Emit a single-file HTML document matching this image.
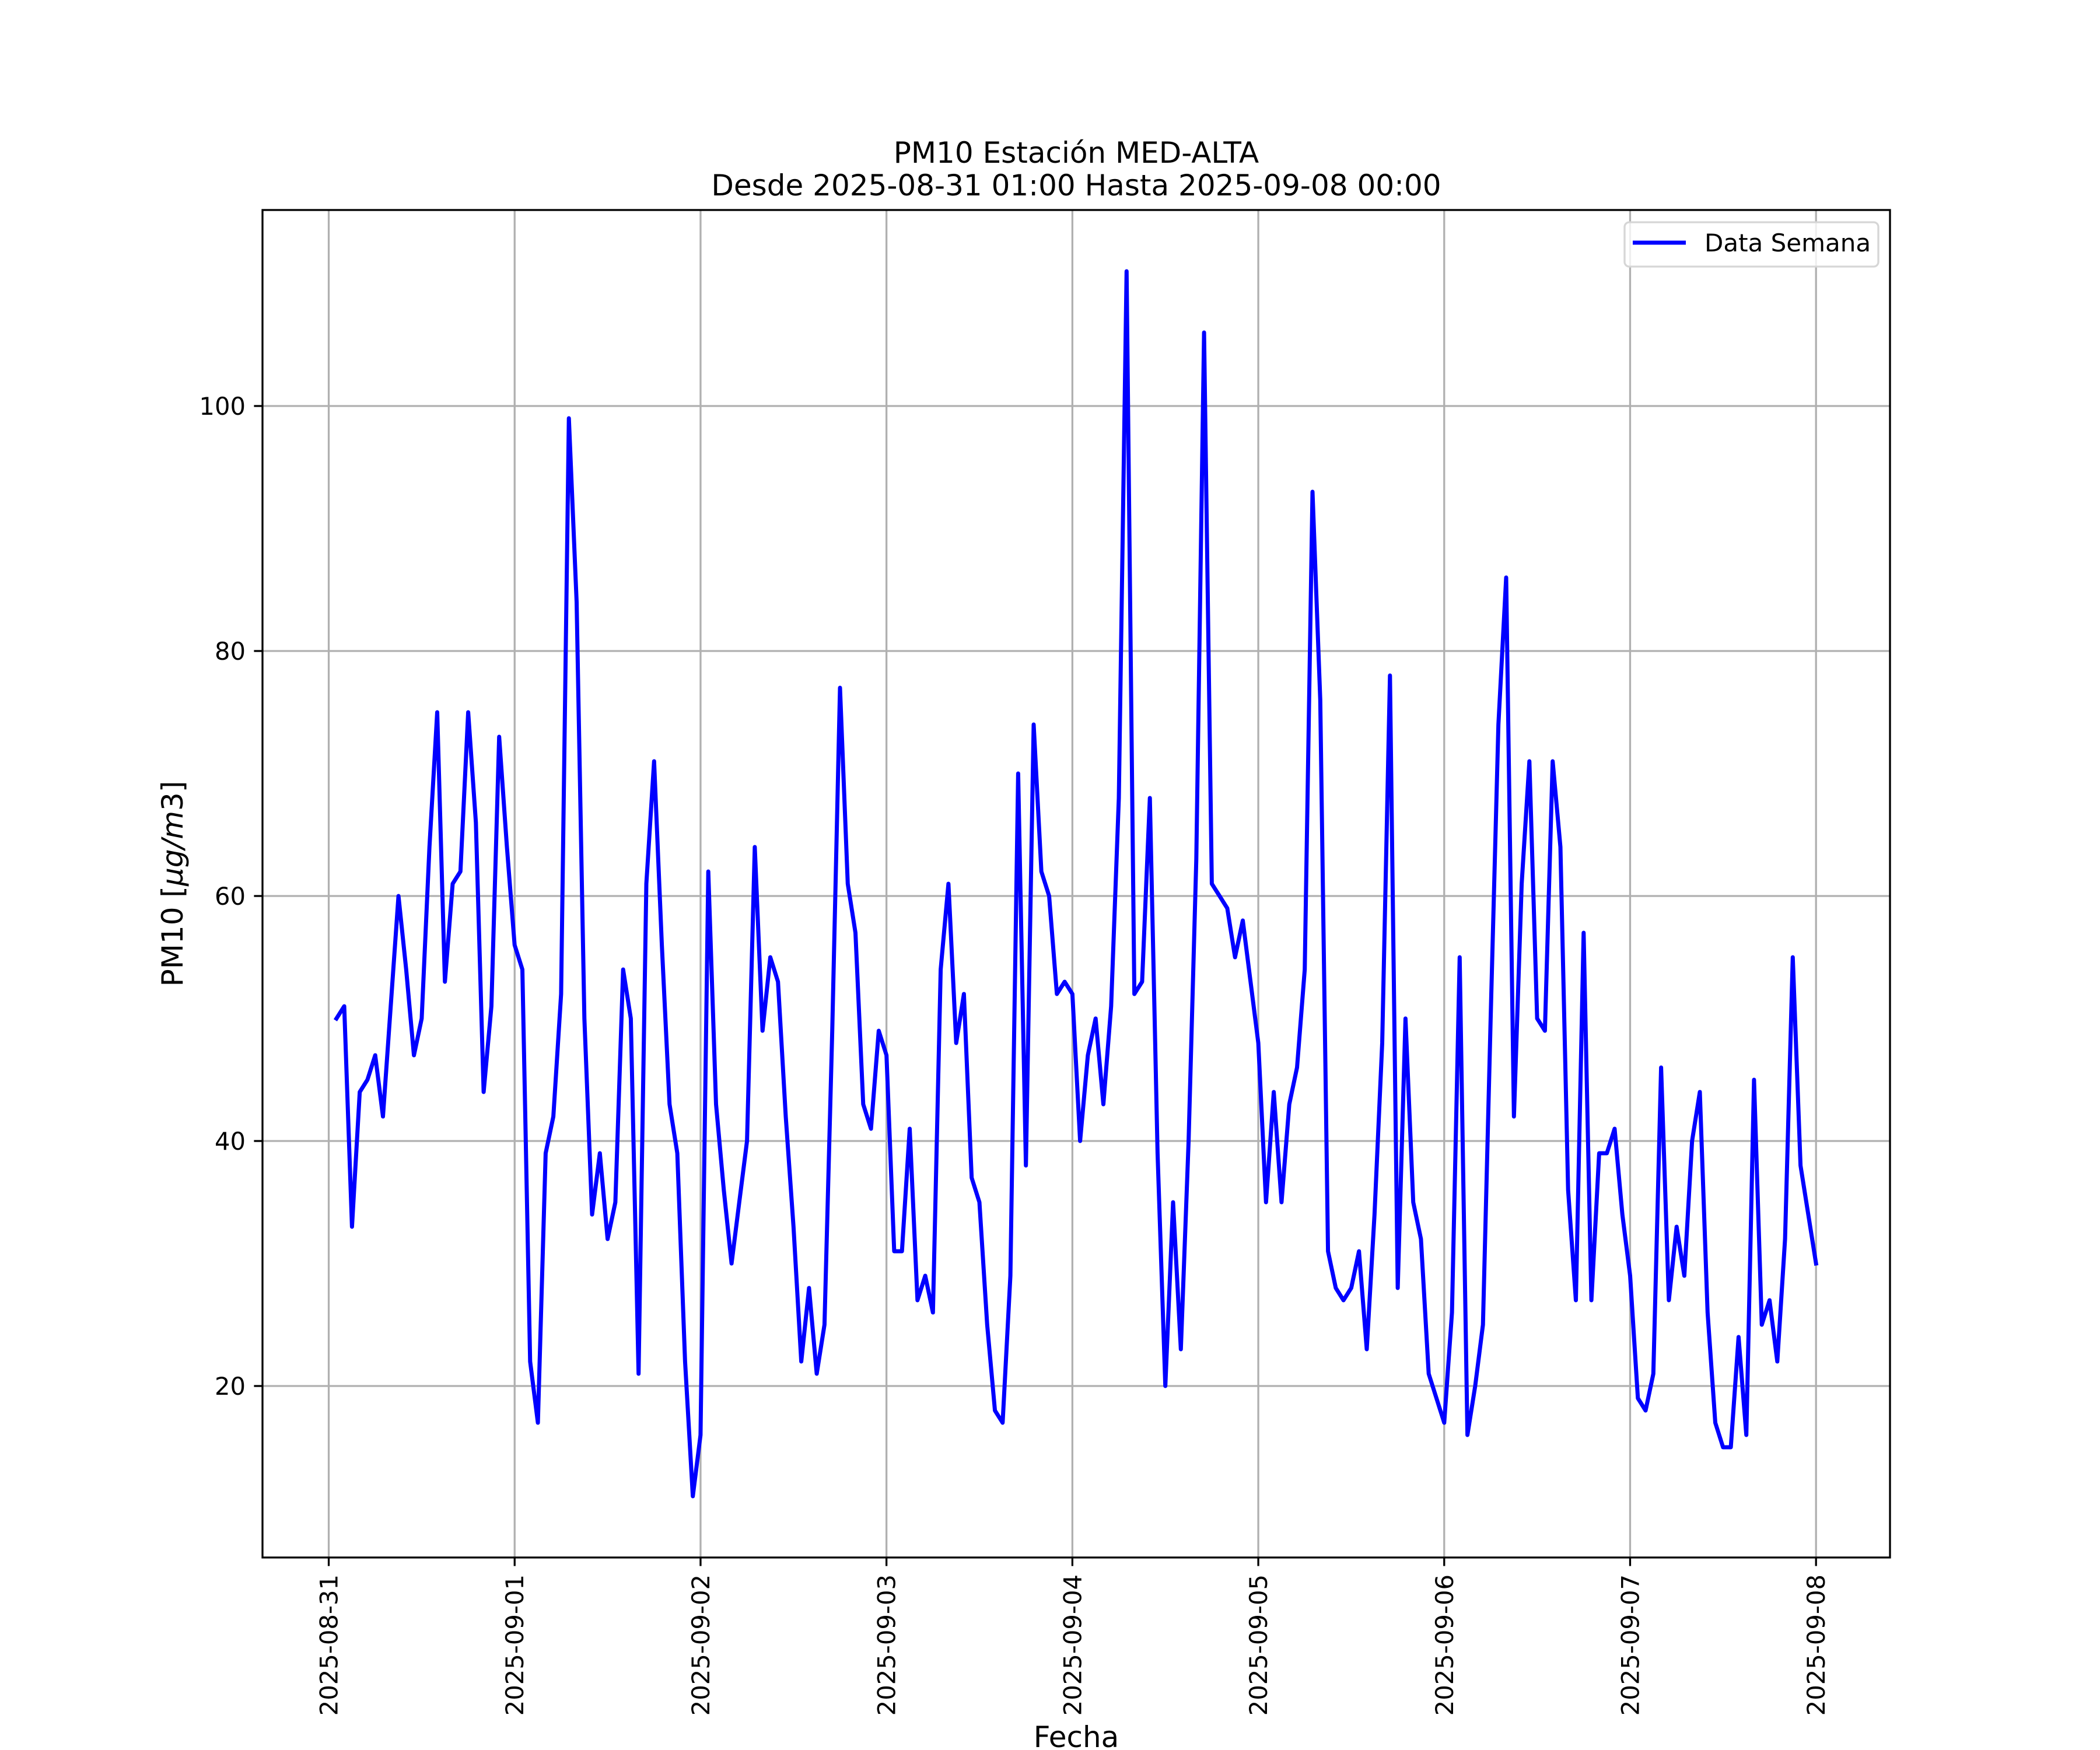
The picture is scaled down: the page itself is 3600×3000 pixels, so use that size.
<!DOCTYPE html>
<html><head><meta charset="utf-8">
<style>
html,body{margin:0;padding:0;background:#fff;}
svg{display:block;font-family:"DejaVu Sans","Liberation Sans",sans-serif;}
</style></head>
<body>
<svg id="chart" width="3600" height="3000" viewBox="0 0 3600 3000" xmlns="http://www.w3.org/2000/svg">
<rect x="0" y="0" width="3600" height="3000" fill="#fff"/>
<text x="1845" y="279" font-size="50" text-anchor="middle">PM10 Estación MED-ALTA</text>
<text x="1845" y="335" font-size="50" text-anchor="middle">Desde 2025-08-31 01:00 Hasta 2025-09-08 00:00</text>
<g id="grid"></g>
<g id="ticks"></g>
<g id="series"></g>
<rect x="450" y="360" width="2790" height="2310" fill="none" stroke="#000" stroke-width="3.3"/>
<text x="1845" y="2995" font-size="50" text-anchor="middle">Fecha</text>
<text transform="translate(313,1515) rotate(-90)" font-size="50" text-anchor="middle">PM10 [<tspan font-style="italic">μg/m</tspan>3]</text>
<g>
<rect x="2785" y="381" width="435" height="76" rx="8" fill="#fff" fill-opacity="0.8" stroke="#d6d6d6" stroke-width="3.3"/>
<line x1="2799" y1="416" x2="2890" y2="416" stroke="#0000ff" stroke-width="7"/>
<text x="2922" y="431" font-size="42">Data Semana</text>
</g>
</svg>
<script>
const values = [50,51,33,44,45,47,42,51,60,54,47,50,64,75,53,61,62,75,66,44,51,73,64,56,
54,22,17,39,42,52,99,84,50,34,39,32,35,54,50,21,61,71,56,43,39,22,11,16,
62,43,36,30,35,40,64,49,55,53,42,33,22,28,21,25,49,77,61,57,43,41,49,47,
31,31,41,27,29,26,54,61,48,52,37,35,25,18,17,29,70,38,74,62,60,52,53,52,
40,47,50,43,51,68,111,52,53,68,39,20,35,23,40,63,106,61,60,59,55,58,53,48,
35,44,35,43,46,54,93,76,31,28,27,28,31,23,34,48,78,28,50,35,32,21,19,17,
26,55,16,20,25,50,74,86,42,61,71,50,49,71,64,36,27,57,27,39,39,41,34,29,
19,18,21,46,27,33,29,40,44,26,17,15,15,24,16,45,25,27,22,32,55,38,34,30];
const hourOffsets = values.map((v,i)=>i+1);
const yTicks = [20,40,60,80,100];
const xTickLabels = ["2025-08-31","2025-09-01","2025-09-02","2025-09-03","2025-09-04","2025-09-05","2025-09-06","2025-09-07","2025-09-08"];

const NS="http://www.w3.org/2000/svg";
const L=450,R=3240,T=360,B=2670;
const xMin=1-191*0.05, xMax=192+191*0.05;
const yMin=6, yMax=116;
function xs(h){return L+(h-xMin)/(xMax-xMin)*(R-L);}
function ys(v){return B-(v-yMin)/(yMax-yMin)*(B-T);}
function mk(tag,attrs,parent){const e=document.createElementNS(NS,tag);for(const k in attrs)e.setAttribute(k,attrs[k]);parent.appendChild(e);return e;}
const grid=document.getElementById('grid'),ticks=document.getElementById('ticks'),series=document.getElementById('series');

yTicks.forEach(v=>{
  const y=ys(v);
  const g=mk('line',{x1:L,x2:R,y1:y,y2:y,stroke:'#b0b0b0','stroke-width':3.3},grid);
  
  
  const t=mk('line',{x1:L-14.6,x2:L,y1:y,y2:y,stroke:'#000','stroke-width':3.3},ticks);
  
  
  const tx=mk('text',{x:L-29,y:y+15,'font-size':41.7,'text-anchor':'end'},ticks);
  tx.textContent=v;
  
  
});
xTickLabels.forEach((lab,i)=>{
  const x=xs(i*24);
  const g=mk('line',{x1:x,x2:x,y1:T,y2:B,stroke:'#b0b0b0','stroke-width':3.3},grid);
  
  
  const t=mk('line',{x1:x,x2:x,y1:B,y2:B+14.6,stroke:'#000','stroke-width':3.3},ticks);
  
  
  const tx=mk('text',{transform:`translate(${x+15},${B+29}) rotate(-90)`,'font-size':41.7,'text-anchor':'end'},ticks);
  tx.textContent=lab;
  
  
});
const pts=values.map((v,i)=>xs(hourOffsets[i]).toFixed(1)+','+ys(v).toFixed(1)).join(' ');
const line=mk('polyline',{points:pts,fill:'none',stroke:'#0000ff','stroke-width':7,'stroke-linejoin':'round','stroke-linecap':'square'},series);


</script>
</body></html>
